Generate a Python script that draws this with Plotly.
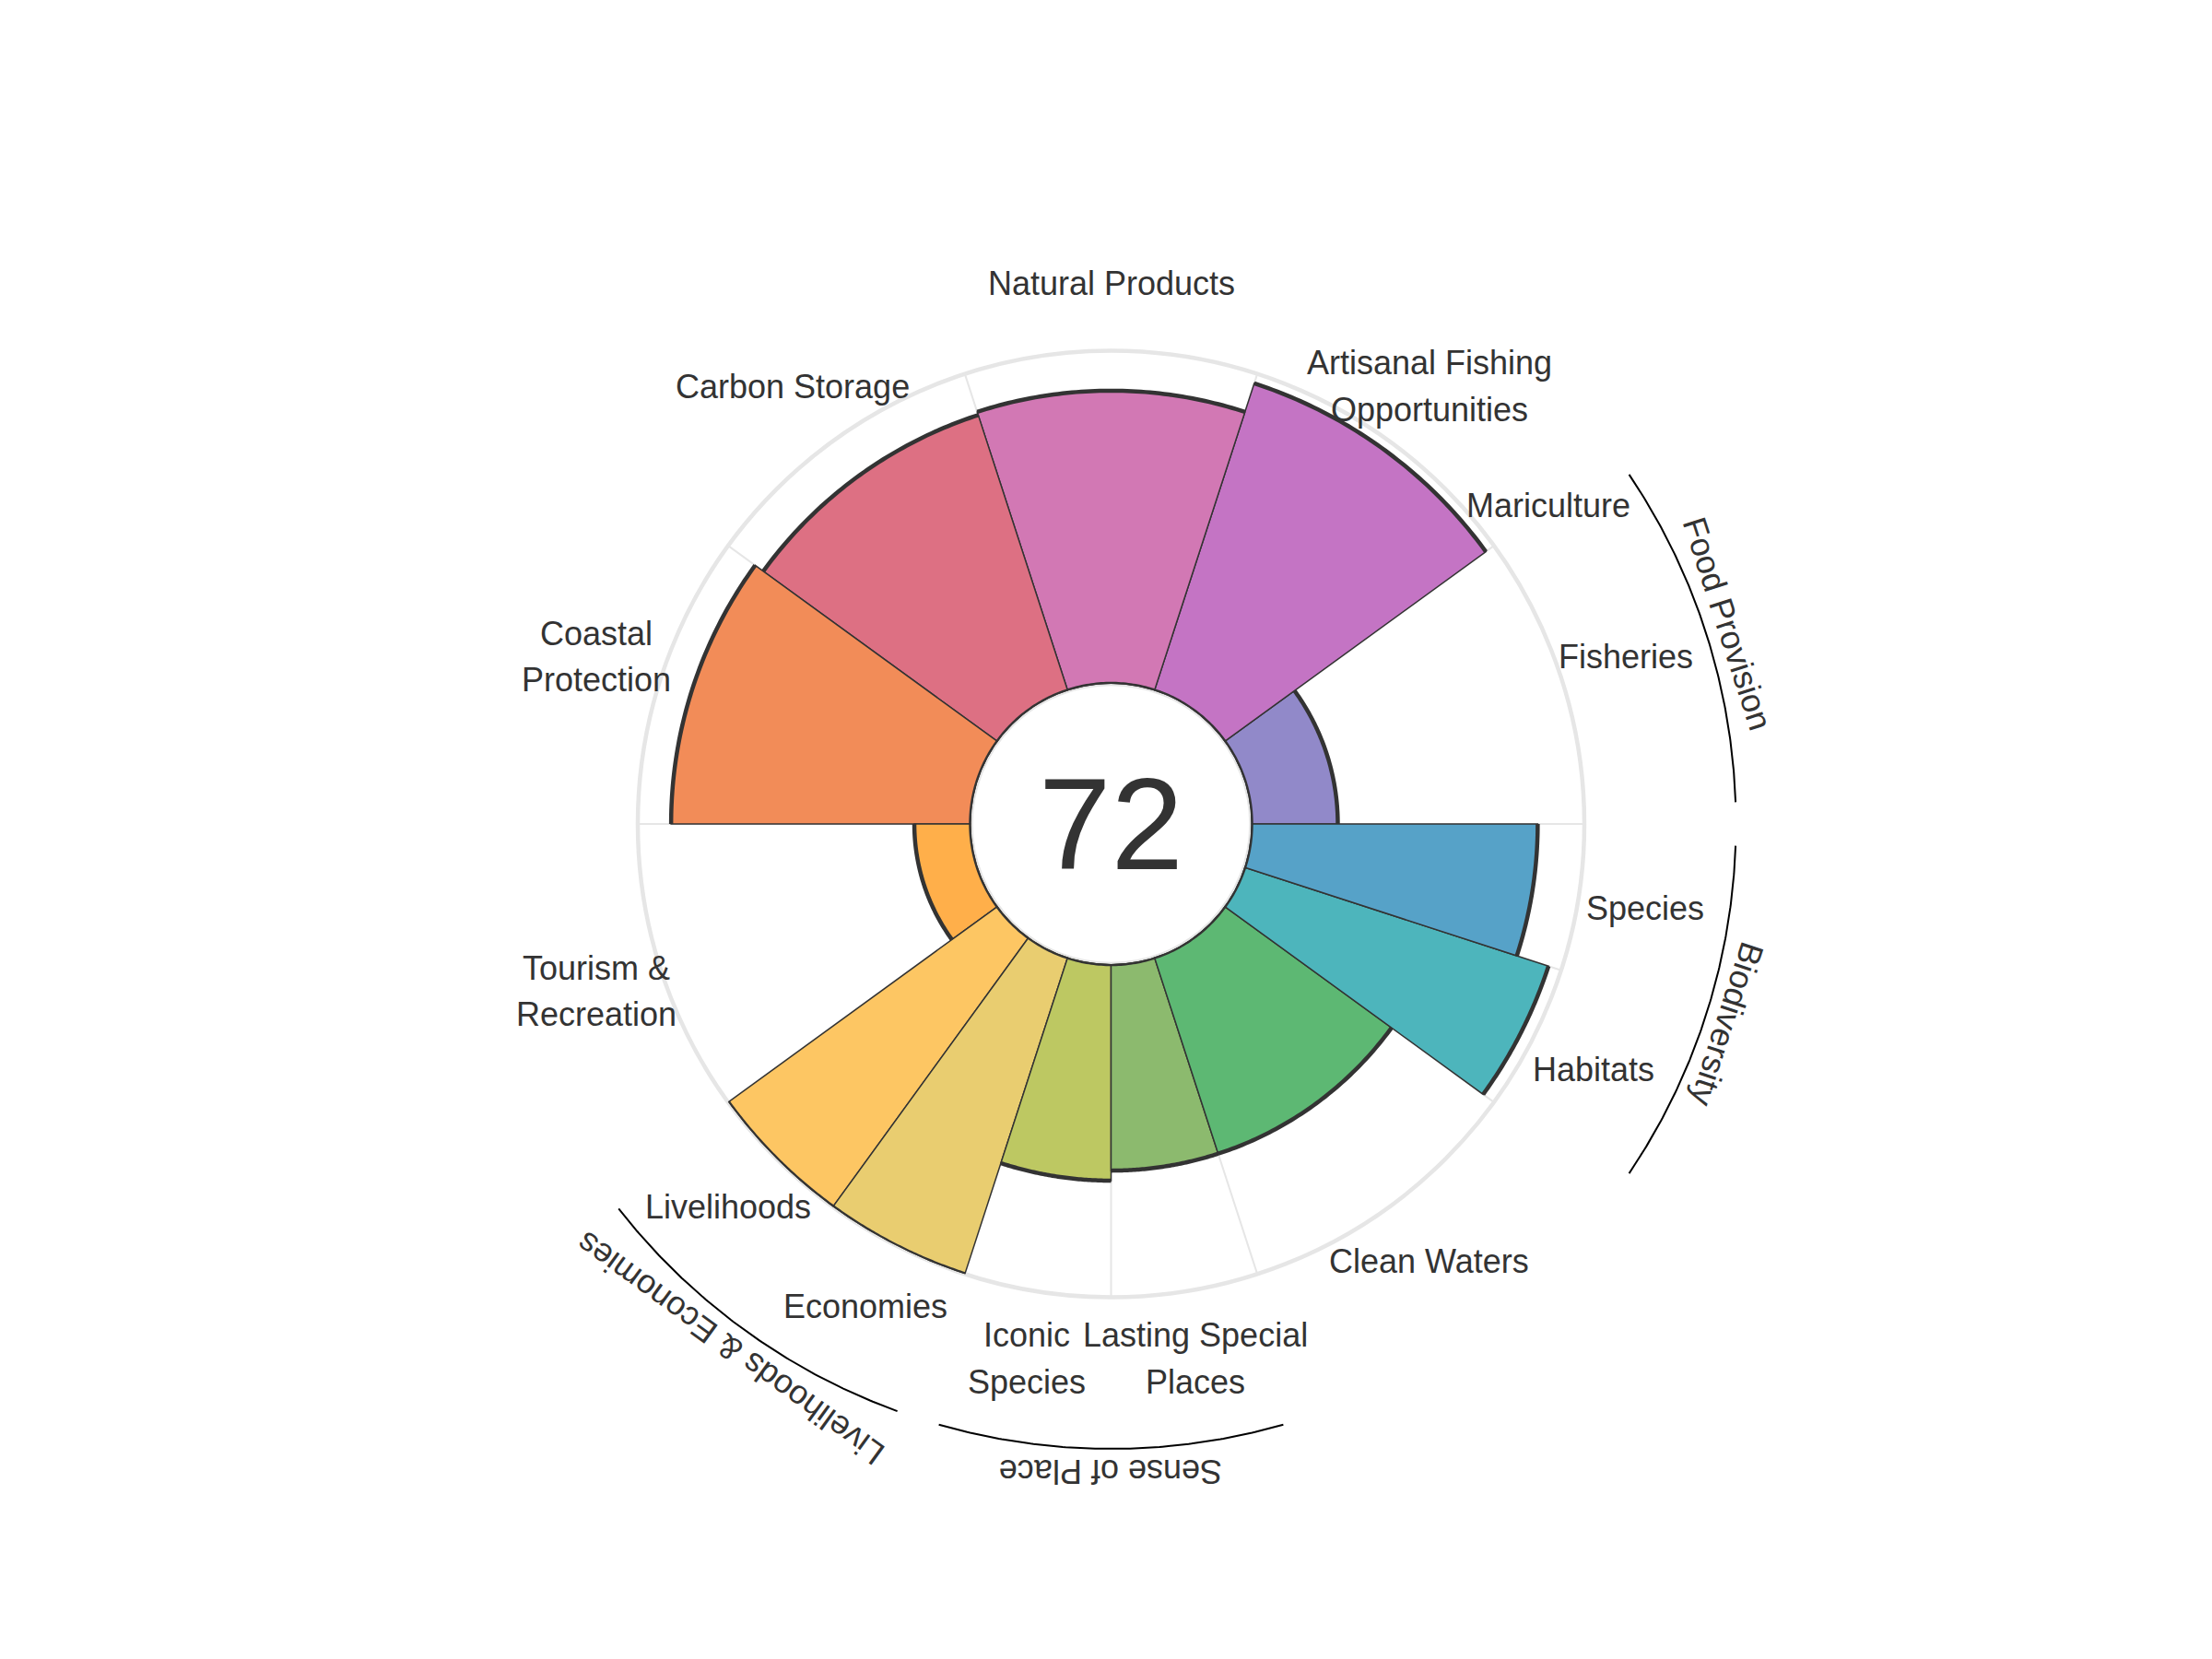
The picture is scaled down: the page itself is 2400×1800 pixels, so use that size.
import numpy as np
import plotly.graph_objects as go

# ---------------- data ----------------
categories = ["Fisheries", "Mariculture", "Artisanal Fishing<br>Opportunities", "Natural Products",
              "Carbon Storage", "Coastal<br>Protection", "Tourism &<br>Recreation", "Livelihoods",
              "Economies", "Iconic<br>Species", "Lasting Special<br>Places", "Clean Waters",
              "Habitats", "Species"]
scores = [26, None, 97, 88, 87, 90, 17, 100, 100, 65, 62, 62, 96, 86]
weights = [1, 0, 1, 1, 1, 1, 1, 0.5, 0.5, 0.5, 0.5, 1, 0.5, 0.5]
colors = ["#9189C9", "#A98BD0", "#C474C4", "#D278B4", "#DD7083", "#F28C58", "#FFAF4A",
          "#FDC663", "#E9CD70", "#BDC862", "#8CBA6E", "#5DB873", "#4DB5BC", "#56A2C8"]
groups = ["Food Provision", "Livelihoods & Economies", "Sense of Place", "Biodiversity"]
group_members = [[0, 1], [7, 8], [9, 10], [12, 13]]
overall_score = "72"

# ---------------- geometry ----------------
W, H = 2384, 1784
CX, CY = 1197.5, 886.0      # centre in paper pixels
R_OUT = 513.5
R_HOLE = 152.0
R_LABEL = 587.0
R_ARC = 678.0
R_GLABEL = 703.0
LINE_GAP = 50.5
FONT = "Liberation Sans, Arial"

widths = [w * 36.0 for w in weights]
starts = np.concatenate([[0.0], np.cumsum(widths)[:-1]])
ends = starts + np.array(widths)
centers = (starts + ends) / 2.0

fig = go.Figure()

# invisible cartesian overlay in pixel units (for labels/arcs outside the polar area)
fig.add_trace(go.Scatter(x=[0, W], y=[0, H], mode="markers", marker=dict(opacity=0),
                         hoverinfo="skip", showlegend=False))

# bars
idx = [i for i in range(len(categories)) if widths[i] > 0 and scores[i] is not None]
fig.add_trace(go.Barpolar(
    r=[scores[i] for i in idx],
    theta=[centers[i] for i in idx],
    width=[widths[i] for i in idx],
    marker=dict(color=[colors[i] for i in idx], line=dict(color="#333333", width=1.5)),
    hoverinfo="skip", showlegend=False,
))

# thick outer arcs of each bar
ar, at = [], []
for i in idx:
    th = np.linspace(starts[i], ends[i], 60)
    at += list(th) + [None]
    ar += [scores[i]] * len(th) + [None]
fig.add_trace(go.Scatterpolar(r=ar, theta=at, mode="lines", cliponaxis=False,
                              line=dict(color="#333333", width=4.5), hoverinfo="skip",
                              showlegend=False, connectgaps=False))

# hole circle
th = np.linspace(0, 360, 361)
fig.add_trace(go.Scatterpolar(r=[0] * len(th), theta=th, mode="lines", cliponaxis=False,
                              line=dict(color="#333333", width=4.5), hoverinfo="skip",
                              showlegend=False))

# group arcs
for g, mem in zip(groups, group_members):
    a0 = starts[mem[0]] + 2.0
    a1 = ends[mem[-1]] - 2.0
    t = np.radians(np.linspace(a0, a1, 120))
    fig.add_trace(go.Scatter(x=CX + R_ARC * np.cos(t), y=CY - R_ARC * np.sin(t), mode="lines",
                             line=dict(color="#000000", width=2), hoverinfo="skip",
                             showlegend=False))

annotations = []
# category labels (each line as its own annotation for precise line spacing)
for i, c in enumerate(categories):
    a = np.radians(centers[i])
    x0 = CX + R_LABEL * np.cos(a)
    y0 = CY - R_LABEL * np.sin(a)
    lines = c.split("<br>")
    n = len(lines)
    for k, ln in enumerate(lines):
        dy = (k - (n - 1) / 2.0) * LINE_GAP
        annotations.append(dict(x=x0, y=y0 + dy, xref="x", yref="y", text=ln, showarrow=False,
                                xanchor="center", yanchor="middle",
                                font=dict(size=36, color="#333333", family=FONT)))
# group labels
for g, mem in zip(groups, group_members):
    ac = (starts[mem[0]] + ends[mem[-1]]) / 2.0
    a = np.radians(ac)
    ang = 90 - ac
    while ang > 180:
        ang -= 360
    while ang <= -180:
        ang += 360
    annotations.append(dict(x=CX + R_GLABEL * np.cos(a), y=CY - R_GLABEL * np.sin(a),
                            xref="x", yref="y", text=g, showarrow=False, textangle=ang,
                            xanchor="center", yanchor="middle",
                            font=dict(size=36, color="#333333", family=FONT)))
# centre score
annotations.append(dict(x=CX, y=CY, xref="x", yref="y", text=overall_score, showarrow=False,
                        xanchor="center", yanchor="middle",
                        font=dict(size=141, color="#333333", family=FONT)))

fig.update_layout(
    width=W, height=H,
    margin=dict(l=0, r=0, t=0, b=0),
    paper_bgcolor="white", plot_bgcolor="rgba(0,0,0,0)",
    xaxis=dict(range=[0, W], visible=False, domain=[0, 1], fixedrange=True),
    yaxis=dict(range=[H, 0], visible=False, domain=[0, 1], fixedrange=True),
    polar=dict(
        domain=dict(x=[(CX - R_OUT) / W, (CX + R_OUT) / W],
                    y=[(H - CY - R_OUT) / H, (H - CY + R_OUT) / H]),
        bgcolor="rgba(0,0,0,0)",
        hole=R_HOLE / R_OUT,
        radialaxis=dict(range=[0, 100], showgrid=False, showline=False, showticklabels=False,
                        ticks="", layer="below traces"),
        angularaxis=dict(direction="counterclockwise", rotation=0,
                         tickvals=sorted(set(list(starts[[i for i in idx]]) + [0.0])),
                         ticks="", showticklabels=False, showgrid=True, gridcolor="#e6e6e6",
                         gridwidth=1.5, showline=True, linecolor="#e6e6e6", linewidth=4.5,
                         layer="below traces"),
    ),
    annotations=annotations,
    showlegend=False,
)

fig.write_html("out.html")
